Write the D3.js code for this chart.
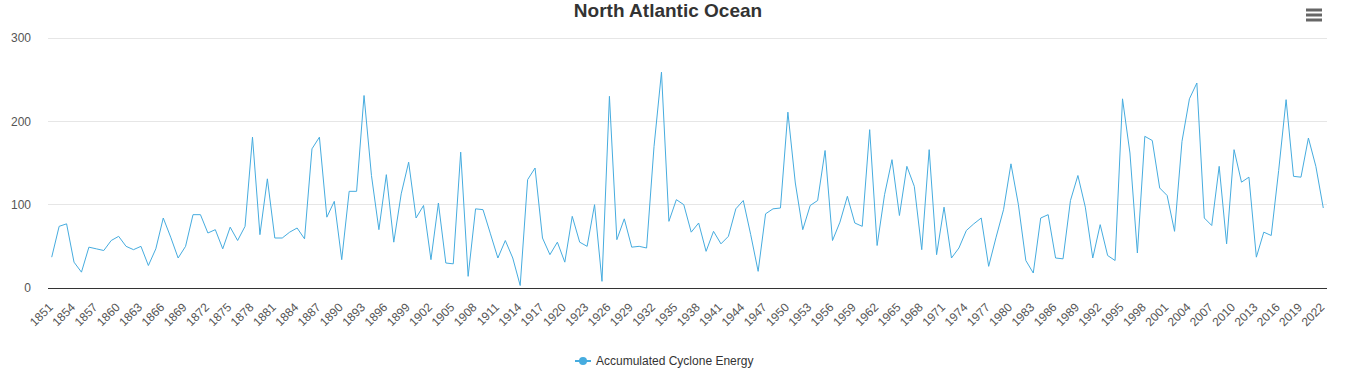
<!DOCTYPE html>
<html><head><meta charset="utf-8">
<script src="https://cdn.jsdelivr.net/npm/d3@7"></script>
<style>
body{margin:0;background:#fff;font-family:"Liberation Sans",Arial,sans-serif;}
svg{display:block;}
</style></head>
<body><svg id="chart" width="1349" height="376"></svg>
<script>
const title = "North Atlantic Ocean";
const seriesName = "Accumulated Cyclone Energy";
const years = d3.range(1851, 2023);
const ace = [
 37,74,77,31,19,49,47,45,57,62,50,46,50,27,47,84,61,36,50,88,
 88,66,70,47,73,57,74,181,64,131,60,60,67,72,59,167,181,85,104,34,
 116,116,231,135,70,136,55,113,151,84,99,34,102,30,29,163,14,95,94,65,
 36,57,36,3,130,144,60,40,55,31,86,55,50,100,8,230,58,83,49,50,
 48,170,259,80,106,100,67,78,44,68,53,62,95,105,64,20,89,95,96,211,
 126,70,99,105,165,57,79,110,78,74,190,51,112,154,87,146,122,46,166,40,
 97,36,48,69,77,84,26,61,94,149,100,33,18,84,88,36,35,105,135,97,
 36,76,39,33,227,162,42,182,177,120,111,68,176,227,246,84,75,146,53,166,
 127,133,37,67,63,141,226,134,133,180,146,96
];
const yTicks = [0, 100, 200, 300];
const xTickLabels = years.filter((y, i) => i % 3 === 0);

const color = "#46acdf";
const svg = d3.select("#chart");
const m = {left: 48, right: 22, top: 38, bottom: 88};
const W = 1349, H = 376;

const x = d3.scaleBand().domain(years).range([m.left, W - m.right]);
const y = d3.scaleLinear().domain([0, 300]).range([288, 38]);

// title
svg.append("text").attr("x", 668).attr("y", 17).attr("text-anchor", "middle")
  .attr("font-size", 19).attr("font-weight", "bold").attr("fill", "#333").text(title);

// menu icon
const menu = svg.append("g").attr("stroke", "#666").attr("stroke-width", 3);
[10, 15, 20].forEach(yy => menu.append("line").attr("x1", 1306).attr("x2", 1322).attr("y1", yy).attr("y2", yy));

// grid
svg.append("g").selectAll("line").data(yTicks.filter(d => d > 0)).join("line")
  .attr("x1", m.left).attr("x2", W - m.right)
  .attr("y1", d => y(d)).attr("y2", d => y(d))
  .attr("stroke", "#e6e6e6").attr("stroke-width", 1).attr("shape-rendering", "crispEdges");

// y labels
const yAxis = d3.axisLeft(y).tickValues(yTicks).tickSize(0).tickPadding(17);
const ya = svg.append("g").attr("transform", `translate(${m.left},0)`).call(yAxis);
ya.select(".domain").remove();
ya.selectAll("text").attr("font-size", 12).attr("fill", "#555").attr("font-family", "Liberation Sans, Arial, sans-serif");

// x axis
const xAxis = d3.axisBottom(x).tickValues(xTickLabels).tickSize(0).tickPadding(0);
const xa = svg.append("g").attr("transform", "translate(0,288)").call(xAxis);
xa.select(".domain").attr("stroke", "#333").attr("d", `M${m.left},0.5H${W - m.right}`);
xa.selectAll("text")
  .attr("font-size", 12).attr("fill", "#555").attr("font-family", "Liberation Sans, Arial, sans-serif")
  .attr("text-anchor", "end").attr("dy", 0)
  .attr("transform", "translate(2,20) rotate(-45)");

// line
const line = d3.line().x((d, i) => x(years[i]) + x.bandwidth() / 2).y(d => y(d));
svg.append("path").datum(ace).attr("d", line).attr("fill", "none")
  .attr("stroke", color).attr("stroke-width", 1).attr("stroke-linejoin", "round");

// legend
const lg = svg.append("g").attr("transform", "translate(575,361)");
lg.append("line").attr("x1", 0).attr("x2", 16).attr("y1", 0).attr("y2", 0).attr("stroke", color).attr("stroke-width", 2);
lg.append("circle").attr("cx", 8).attr("cy", 0).attr("r", 4).attr("fill", color);
lg.append("text").attr("x", 21).attr("y", 4).attr("font-size", 12).attr("fill", "#333").text(seriesName);
</script>
</body></html>
